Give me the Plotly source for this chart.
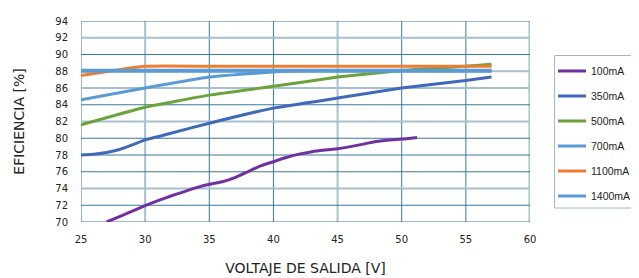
import plotly.graph_objects as go

# Data
x_100 = [27, 28, 29, 30, 31, 32, 33, 34, 35, 36, 37, 38, 39, 40, 41, 42, 43, 44, 45, 46, 47, 48, 49, 50, 51.2]
y_100 = [70.0, 70.65, 71.3, 71.95, 72.55, 73.1, 73.6, 74.1, 74.5, 74.8, 75.3, 76.0, 76.7, 77.2, 77.7, 78.1, 78.4, 78.6, 78.75, 79.0, 79.3, 79.6, 79.8, 79.9, 80.1]

x_350 = [25, 26, 27, 28, 29, 30, 32, 35, 40, 45, 50, 55, 57]
y_350 = [78.0, 78.1, 78.3, 78.65, 79.2, 79.8, 80.6, 81.8, 83.6, 84.8, 86.0, 86.9, 87.3]

x_500 = [25, 30, 35, 40, 45, 50, 55, 57]
y_500 = [81.6, 83.7, 85.15, 86.2, 87.3, 88.1, 88.6, 88.85]

x_700 = [25, 30, 35, 40, 42, 45, 50, 55, 57]
y_700 = [84.6, 86.0, 87.3, 87.9, 88.05, 88.05, 88.05, 88.05, 88.05]

x_1100 = [25, 30, 35, 40, 45, 50, 55, 57]
y_1100 = [87.5, 88.6, 88.6, 88.6, 88.6, 88.6, 88.6, 88.6]

x_1400 = [25, 30, 35, 40, 45, 50, 55, 57]
y_1400 = [88.05, 88.05, 88.05, 88.05, 88.05, 88.05, 88.05, 88.05]

series_names = ["100mA", "350mA", "500mA", "700mA", "1100mA", "1400mA"]
series_x = [x_100, x_350, x_500, x_700, x_1100, x_1400]
series_y = [y_100, y_350, y_500, y_700, y_1100, y_1400]
series_colors = ["#7030a0", "#4169b9", "#6aa33c", "#5b9bd5", "#ed7d31", "#5b9bd5"]
series_widths = [3, 3, 3, 3, 3, 4]

x_ticks = [25, 30, 35, 40, 45, 50, 55, 60]
y_ticks = [70, 72, 74, 76, 78, 80, 82, 84, 86, 88, 90, 92, 94]

# gridline styling (light lines appear in the reference)
light_x = {30, 45, 60}
light_y = {92, 88, 86, 82, 74}
DARK = "#3b7a9a"
LIGHT = "#a5c0cf"

OFF = 8  # page body margin offset
W, H = 631, 270
L, T = 81 - OFF, 21 - OFF
PW, PH = 449, 201
R = W - L - PW
B = H - T - PH


def px_x(px):
    return (px - OFF - L) / PW


def px_y(py):
    return (T + PH - (py - OFF)) / PH


fig = go.Figure()

shapes = []
for xv in x_ticks:
    lt = xv in light_x
    shapes.append(dict(type="line", xref="x", yref="paper", x0=xv, x1=xv, y0=0, y1=1,
                       line=dict(color=LIGHT if lt else DARK, width=3 if xv == 60 else (2 if lt else 1)),
                       layer="below"))
for yv in y_ticks:
    lt = yv in light_y
    shapes.append(dict(type="line", xref="paper", yref="y", x0=0, x1=1, y0=yv, y1=yv,
                       line=dict(color=LIGHT if lt else DARK, width=2 if lt else 1),
                       layer="below"))

for n, xs, ys, c, w in zip(series_names, series_x, series_y, series_colors, series_widths):
    fig.add_trace(go.Scatter(x=xs, y=ys, mode="lines", name=n, showlegend=False,
                             line=dict(color=c, width=w, shape="spline", smoothing=0.4)))

# manual legend box
annotations = []
shapes.append(dict(type="rect", xref="paper", yref="paper",
                   x0=px_x(554.5), x1=px_x(660), y0=px_y(208), y1=px_y(55.5),
                   line=dict(color="#9fb8c8", width=1), fillcolor="white"))
for i, (n, c) in enumerate(zip(series_names, series_colors)):
    py = 71 + i * 25
    shapes.append(dict(type="line", xref="paper", yref="paper",
                       x0=px_x(558), x1=px_x(586), y0=px_y(py), y1=px_y(py),
                       line=dict(color=c, width=3)))
    annotations.append(dict(xref="paper", yref="paper", x=px_x(589), y=px_y(py),
                            xanchor="left", yanchor="middle", showarrow=False,
                            text=n, font=dict(family="Liberation Sans", size=10.5, color="#222222")))

font_family = "DejaVu Sans"
fig.update_layout(
    width=W, height=H,
    margin=dict(l=L, r=R, t=T, b=B, autoexpand=False),
    paper_bgcolor="white", plot_bgcolor="white",
    shapes=shapes, annotations=annotations,
    showlegend=False,
    font=dict(family=font_family, size=10, color="#222222"),
    xaxis=dict(range=[25, 60], tickvals=x_ticks, showgrid=False, zeroline=False, automargin=False,
               ticks="outside", ticklen=8, tickcolor="rgba(0,0,0,0)",
               title=dict(text="VOLTAJE DE SALIDA [V]", font=dict(size=14, color="#222222"), standoff=19),
               tickfont=dict(size=10)),
    yaxis=dict(range=[70, 94], tickvals=y_ticks, showgrid=False, zeroline=False, automargin=False,
               ticks="outside", ticklen=10, tickcolor="rgba(0,0,0,0)",
               title=dict(text="EFICIENCIA [%]", font=dict(size=14, color="#222222"), standoff=27),
               tickfont=dict(size=10)),
)

fig.write_html("out.html")
